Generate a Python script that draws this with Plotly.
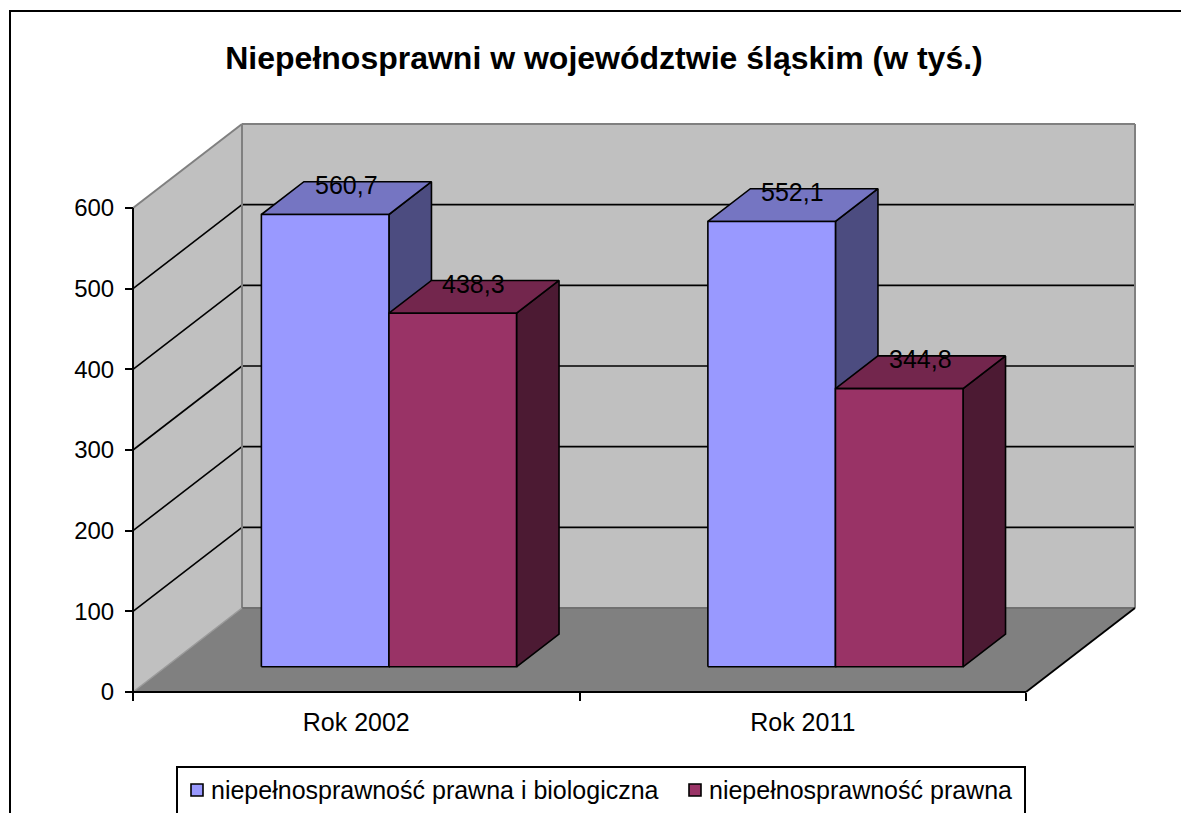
import plotly.graph_objects as go

# ---- data -------------------------------------------------------------
categories = ["Rok 2002", "Rok 2011"]
series_names = [
    "niepełnosprawność prawna i biologiczna",
    "niepełnosprawność prawna",
]
series_values = [
    [560.7, 552.1],   # prawna i biologiczna
    [438.3, 344.8],   # prawna
]
y_ticks = [0, 100, 200, 300, 400, 500, 600]

# ---- styling ----------------------------------------------------------
FONT = "Liberation Sans, Arial, sans-serif"
FACE_COLORS = [
    dict(front="#9999FF", top="#7575C2", side="#4C4C80"),
    dict(front="#993366", top="#73264D", side="#4C1A33"),
]
WALL = "#C0C0C0"
FLOOR = "#808080"
EDGE = "#808080"

W, H = 1181, 813
Y_MAX = y_ticks[-1]
GAP_WIDTH = 1.5            # gap between clusters, in bar widths
BAR_DEPTH = (0.30, 0.69)   # front/back of the bars as a fraction of floor depth

# pixel frame of the front plane
FRONT_LEFT, FRONT_RIGHT = 133, 1026
FRONT_BOTTOM, FRONT_TOP = 692, 208
DEPTH_PX = (109, 84)       # oblique offset of the back wall
PAD = 6

x_scale = (FRONT_RIGHT - FRONT_LEFT) / len(categories)
y_scale = (FRONT_BOTTOM - FRONT_TOP) / Y_MAX
DX = DEPTH_PX[0] / x_scale
DY = DEPTH_PX[1] / y_scale
NX = len(categories)

pad_x = PAD / x_scale
pad_y = PAD / y_scale
PLOT_L = FRONT_LEFT - PAD
PLOT_R = FRONT_RIGHT + DEPTH_PX[0] + PAD
PLOT_T = FRONT_TOP - DEPTH_PX[1] - PAD
PLOT_B = FRONT_BOTTOM + PAD
PLOT_W = PLOT_R - PLOT_L
PLOT_H = PLOT_B - PLOT_T


def px_x(p):
    return (p - PLOT_L) / PLOT_W


def px_y(p):
    return (PLOT_B - p) / PLOT_H


def proj(x, y, d):
    """Oblique projection of a point at depth d (0 = front, 1 = back)."""
    return x + d * DX, y + d * DY


fig = go.Figure()
shapes = []


def seg(p, q, color, width, layer="below"):
    shapes.append(dict(type="line", xref="x", yref="y", x0=p[0], y0=p[1],
                       x1=q[0], y1=q[1], layer=layer,
                       line=dict(color=color, width=width)))


def poly_path(pts):
    return "M" + " L".join(f"{x},{y}" for x, y in pts) + " Z"


# walls and floor
side_wall = [proj(0, 0, 0), proj(0, 0, 1), proj(0, Y_MAX, 1), proj(0, Y_MAX, 0)]
back_wall = [proj(0, 0, 1), proj(NX, 0, 1), proj(NX, Y_MAX, 1), proj(0, Y_MAX, 1)]
floor = [proj(0, 0, 0), proj(NX, 0, 0), proj(NX, 0, 1), proj(0, 0, 1)]
for pts, col in [(side_wall, WALL), (back_wall, WALL), (floor, FLOOR)]:
    shapes.append(dict(type="path", xref="x", yref="y", path=poly_path(pts),
                       fillcolor=col, line=dict(width=0), layer="below"))

# gridlines running along the side wall and the back wall
for v in y_ticks[1:-1]:
    seg(proj(0, v, 0), proj(0, v, 1), "black", 1.6)
    seg(proj(0, v, 1), proj(NX, v, 1), "black", 1.6)

# wall outlines
seg(proj(0, Y_MAX, 0), proj(0, Y_MAX, 1), EDGE, 2)
seg(proj(0, Y_MAX, 1), proj(NX, Y_MAX, 1), EDGE, 2)
seg(proj(NX, Y_MAX, 1), proj(NX, 0, 1), EDGE, 2)
seg(proj(0, 0, 1), proj(0, Y_MAX, 1), EDGE, 2)
seg(proj(0, 0, 1), proj(NX, 0, 1), "#707070", 2)
seg(proj(0, 0, 0), proj(0, 0, 1), "#9A9A9A", 1.5)
# front axis lines and the right floor edge
seg(proj(0, 0, 0), proj(0, Y_MAX, 0), "black", 2)
seg(proj(0, 0, 0), proj(NX, 0, 0), "black", 2)
seg(proj(NX, 0, 0), proj(NX, 0, 1), "black", 1.8)

# columns
n_series = len(series_values)
bar_w = 1 / (n_series + GAP_WIDTH)
d0, d1 = BAR_DEPTH
dm = (d0 + d1) / 2
annotations = []
for i in range(NX):
    for j, vals in enumerate(series_values):
        v = vals[i]
        x0 = i + GAP_WIDTH / 2 * bar_w + j * bar_w
        x1 = x0 + bar_w
        faces = [
            ("side", [proj(x1, 0, d0), proj(x1, 0, d1), proj(x1, v, d1), proj(x1, v, d0)]),
            ("top", [proj(x0, v, d0), proj(x1, v, d0), proj(x1, v, d1), proj(x0, v, d1)]),
            ("front", [proj(x0, 0, d0), proj(x1, 0, d0), proj(x1, v, d0), proj(x0, v, d0)]),
        ]
        for face, pts in faces:
            pts = pts + [pts[0]]
            fig.add_trace(go.Scatter(
                x=[p[0] for p in pts], y=[p[1] for p in pts],
                mode="lines", fill="toself",
                fillcolor=FACE_COLORS[j][face],
                line=dict(color="black", width=1.6),
                hoverinfo="skip", showlegend=False,
            ))
        lx, ly = proj((x0 + x1) / 2, v, dm)
        annotations.append(dict(
            x=lx, y=ly, xref="x", yref="y", showarrow=False,
            text=f"{v:.1f}".replace(".", ","), yanchor="middle", yshift=13,
            font=dict(family=FONT, size=25, color="black"),
        ))

# chart border
shapes.append(dict(type="rect", xref="paper", yref="paper",
                   x0=px_x(10), x1=px_x(1200), y0=px_y(11), y1=px_y(840),
                   line=dict(color="black", width=2), fillcolor="rgba(0,0,0,0)",
                   layer="above"))

# legend
shapes.append(dict(type="rect", xref="paper", yref="paper",
                   x0=px_x(177), x1=px_x(1025), y0=px_y(767), y1=px_y(830),
                   line=dict(color="black", width=2), fillcolor="white",
                   layer="above"))
legend_items = [(191, 209), (689, 707)]
for (sq_x, tx_x), name, cols in zip(legend_items, series_names, FACE_COLORS):
    shapes.append(dict(type="rect", xref="paper", yref="paper",
                       x0=px_x(sq_x), x1=px_x(sq_x + 12),
                       y0=px_y(784), y1=px_y(796),
                       line=dict(color="black", width=1.6),
                       fillcolor=cols["front"], layer="above"))
    annotations.append(dict(
        x=px_x(tx_x), y=px_y(790), xref="paper", yref="paper",
        xanchor="left", yanchor="middle", showarrow=False, text=name,
        font=dict(family=FONT, size=25, color="black"),
    ))

fig.update_layout(
    width=W, height=H, autosize=False,
    margin=dict(l=PLOT_L, r=W - PLOT_R, t=PLOT_T, b=H - PLOT_B, pad=0),
    paper_bgcolor="white", plot_bgcolor="white",
    showlegend=False,
    title=dict(
        text="<b>Niepełnosprawni w województwie śląskim (w tyś.)</b>",
        x=604 / W, xanchor="center", xref="container",
        y=1 - 58 / H, yanchor="middle", yref="container",
        font=dict(family=FONT, size=32, color="black"),
    ),
    xaxis=dict(
        range=[-pad_x, NX + DX + pad_x], anchor="free", position=px_y(FRONT_BOTTOM),
        tickvals=[i + 0.5 for i in range(NX)], ticktext=categories, ticks="",
        tickfont=dict(family=FONT, size=25, color="black"),
        ticklabelstandoff=13,
        minor=dict(tickvals=list(range(NX + 1)), ticks="outside", ticklen=8,
                   tickwidth=2, tickcolor="black", showgrid=False),
        showgrid=False, zeroline=False, showline=False, fixedrange=True,
    ),
    yaxis=dict(
        range=[-pad_y, Y_MAX + DY + pad_y], anchor="free", position=px_x(FRONT_LEFT),
        tickvals=y_ticks, ticks="outside", ticklen=8, tickwidth=2, tickcolor="black",
        tickfont=dict(family=FONT, size=24, color="black"),
        ticklabelstandoff=6,
        showgrid=False, zeroline=False, showline=False, fixedrange=True,
    ),
    shapes=shapes,
    annotations=annotations,
)

fig.write_html("out.html")
